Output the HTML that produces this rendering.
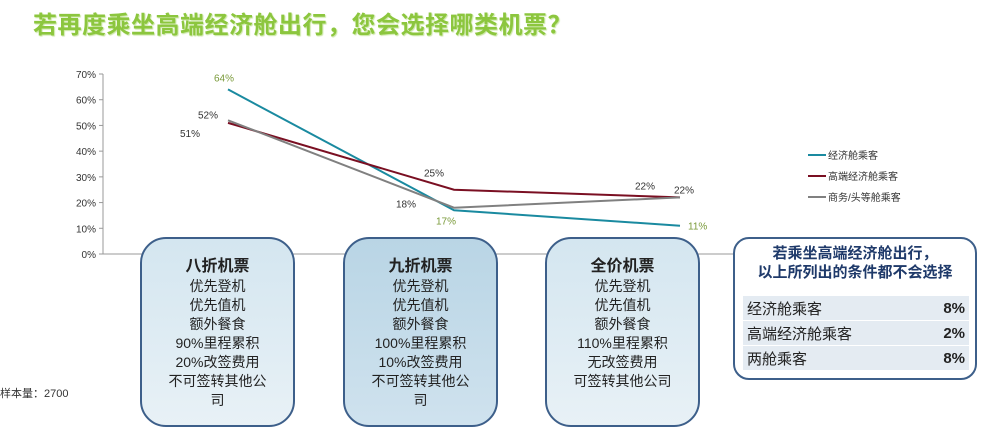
<!DOCTYPE html>
<html><head><meta charset="utf-8"><style>
body{margin:0;width:994px;height:428px;background:#fff;position:relative;overflow:hidden;font-family:"Liberation Sans","Noto Sans CJK SC",sans-serif}
.title{position:absolute;left:33px;top:5px;font-size:24px;font-weight:bold;color:#8cc63e;letter-spacing:0.5px;text-shadow:1px 1px 1px #c8e6a0}
.box{position:absolute;top:237px;width:151px;height:186px;border:2px solid #3d5f8a;border-radius:26px;background:linear-gradient(#d4e6f0,#e8f1f6);text-align:center;font-size:14px;line-height:19px;color:#222}
.box b{display:block;font-size:16px;margin-top:18px;margin-bottom:1px}
.note{position:absolute;left:733px;top:237px;width:240px;height:139px;border:2px solid #3d5f8a;border-radius:16px;background:#fff}
.note .h{text-align:center;font-weight:bold;color:#1f3a6a;font-size:15px;line-height:19px;margin-top:5px}
.note table{position:absolute;left:8px;top:57px;width:226px;border-collapse:collapse;font-size:15px;color:#222}
.note td{background:#e4ebf2;height:24px;border-bottom:1px solid #fff;padding:0 4px}
.note td.v{text-align:right;font-weight:bold}
</style></head><body>
<div class="title">若再度乘坐高端经济舱出行，您会选择哪类机票？</div>
<svg id="chart" width="994" height="428" style="position:absolute;left:0;top:0"></svg>
<div class="box" style="left:140px"><b>八折机票</b>优先登机<br>优先值机<br>额外餐食<br>90%里程累积<br>20%改签费用<br>不可签转其他公<br>司</div>
<div class="box" style="left:343px;background:linear-gradient(#b9d5e5,#cfe2ee)"><b>九折机票</b>优先登机<br>优先值机<br>额外餐食<br>100%里程累积<br>10%改签费用<br>不可签转其他公<br>司</div>
<div class="box" style="left:545px"><b>全价机票</b>优先登机<br>优先值机<br>额外餐食<br>110%里程累积<br>无改签费用<br>可签转其他公司</div>
<div class="note">
<div class="h">若乘坐高端经济舱出行，<br>以上所列出的条件都不会选择</div>
<table>
<tr><td>经济舱乘客</td><td class="v">8%</td></tr>
<tr><td>高端经济舱乘客</td><td class="v">2%</td></tr>
<tr><td>两舱乘客</td><td class="v">8%</td></tr>
</table></div>
<div style="position:absolute;left:0;top:385px;font-size:11px;color:#333">样本量：2700</div>
<script>
const categories=["八折机票","九折机票","全价机票"];
const seriesNames=["经济舱乘客","高端经济舱乘客","商务/头等舱乘客"];
const economy=[64,17,11];
const premium=[51,25,22];
const business=[52,18,22];
const yTicks=[0,10,20,30,40,50,60,70];
const colors=["#1a8aa0","#7a0f22","#808080"];
const svg=document.getElementById('chart');
const NS="http://www.w3.org/2000/svg";
const xPos=i=>228+i*226;
const yPos=v=>254-v*180/70;
function el(t,a){const e=document.createElementNS(NS,t);for(const k in a)e.setAttribute(k,a[k]);svg.appendChild(e);return e;}
let ax=el('line',{x1:103,y1:74,x2:103,y2:254,stroke:'#999'});


let bx=el('line',{x1:103,y1:254,x2:740,y2:254,stroke:'#999'});


yTicks.forEach(v=>{
 el('line',{x1:99,y1:yPos(v),x2:103,y2:yPos(v),stroke:'#999'});
 const t=el('text',{x:96,y:yPos(v)+4,'text-anchor':'end','font-size':10,fill:'#333'});
 t.textContent=v+'%';
 
 
});
const all=[economy,premium,business];
const names=['economy-line','premium-line','business-line'];
all.forEach((s,k)=>{
 const p=el('polyline',{points:s.map((v,i)=>xPos(i)+','+yPos(v)).join(' '),fill:'none',stroke:colors[k],'stroke-width':2});
 
 
});
const lblColor=['#7a9a3a','#333','#333'];
all.forEach((s,k)=>{
 s.forEach((v,i)=>{
  let dx,dy;
  if(k===0){dx=[-14,-18,8][i];dy=[-8,14,4][i];}
  if(k===1){dx=[-48,-30,-45][i];dy=[14,-13,-8][i];}
  if(k===2){dx=[-30,-58,-6][i];dy=[-2,0,-4][i];}
  const t=el('text',{x:xPos(i)+dx,y:yPos(v)+dy,'font-size':10,fill:lblColor[k]});
  t.textContent=v+'%';
  
  
 });
});
seriesNames.forEach((n,k)=>{
 const y=155+k*21;
 const l=el('line',{x1:808,y1:y,x2:826,y2:y,stroke:colors[k],'stroke-width':2});
 
 
 const t=el('text',{x:828,y:y+4,'font-size':10,fill:'#333'});
 t.textContent=n;
 
 
});
</script>
</body></html>
